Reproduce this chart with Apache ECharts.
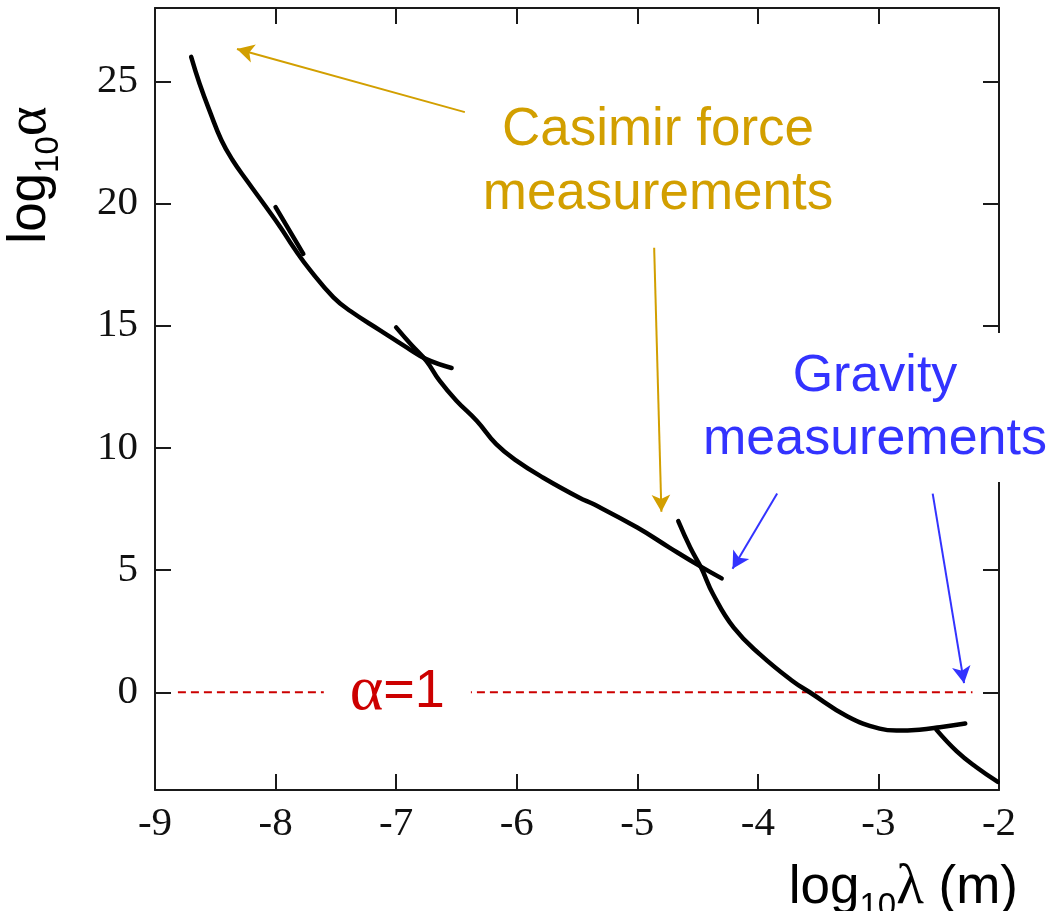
<!DOCTYPE html>
<html>
<head>
<meta charset="utf-8">
<script src="https://cdn.jsdelivr.net/npm/echarts@6/dist/echarts.min.js"></script>
<style>
  html, body { margin: 0; padding: 0; background: #fff; }
  #chart { width: 1054px; height: 911px; }
</style>
</head>
<body>
<div id="chart"></div>
<script>
// tick values
const yTicks = [0, 5, 10, 15, 20, 25];

// exclusion curves, [log10 lambda, log10 alpha]
const curveA = [[-8.70, 26.0], [-8.63, 24.9], [-8.54, 23.7], [-8.45, 22.6], [-8.36, 21.8],
  [-8.24, 20.95], [-8.10, 20.0], [-7.96, 19.03], [-7.85, 18.2], [-7.71, 17.25],
  [-7.52, 16.16], [-7.38, 15.6], [-7.13, 14.8], [-6.91, 14.1], [-6.75, 13.63], [-6.54, 13.27]];
const crossA = [[-8.0, 19.85], [-7.77, 17.94]];
const curveC = [[-7.0, 14.93], [-6.88, 14.25], [-6.75, 13.56], [-6.64, 12.75], [-6.50, 11.93],
  [-6.33, 11.1], [-6.17, 10.15], [-6.0, 9.47], [-5.78, 8.78], [-5.48, 7.96], [-5.36, 7.69],
  [-5.0, 6.74], [-4.73, 5.91], [-4.48, 5.16], [-4.30, 4.66]];
const curveD = [[-4.66, 7.0], [-4.56, 5.91], [-4.47, 5.09], [-4.37, 4.0], [-4.20, 2.64],
  [-3.98, 1.54], [-3.71, 0.45], [-3.57, 0.0], [-3.26, -0.98], [-2.99, -1.49],
  [-2.85, -1.57], [-2.66, -1.53], [-2.49, -1.43], [-2.28, -1.28]];
const curveE = [[-2.52, -1.53], [-2.35, -2.42], [-2.19, -3.06], [-2.01, -3.67]];

// alpha = 1 reference line and its label
const alphaOneLine = [[-8.81, 0], [-2.22, 0]];
const alphaOneLabel = [[-6.99, 0]];

// annotation arrows: [tail, head]
const casimirArrows = [[[-6.43, 23.74], [-8.32, 26.32]], [[-4.86, 18.19], [-4.80, 7.39]]];
const gravityArrows = [[[-3.84, 8.13], [-4.21, 5.05]], [[-2.55, 8.13], [-2.29, 0.37]]];

const GOLD = '#d29f00';
const BLUE = '#3333ff';
const RED = '#cc0000';

const titleRich = {
  a: { fontFamily: 'Liberation Sans', fontSize: 53, color: '#000' },
  b: { fontFamily: 'Liberation Sans', fontSize: 33, color: '#000', padding: [36, 0, 0, 0] },
  c: { fontFamily: 'Liberation Serif', fontSize: 57, color: '#000' }
};

function curve(data) {
  return {
    type: 'line',
    data: data,
    smooth: 0.45,
    symbol: 'none',
    lineStyle: { color: '#000', width: 4.5, cap: 'round', join: 'round' },
    z: 3
  };
}

function arrows(list, color) {
  return {
    silent: true,
    symbol: ['none', 'arrow'],
    symbolSize: [14, 17],
    label: { show: false },
    lineStyle: { color: color, width: 2, type: 'solid' },
    data: list.map(a => [{ coord: a[0] }, { coord: a[1] }])
  };
}

const chart = echarts.init(document.getElementById('chart'));

const axisLine = { show: true, onZero: false, lineStyle: { color: '#1a1a1a', width: 2 } };
const tick = { show: true, inside: true, length: 16, lineStyle: { color: '#1a1a1a', width: 2 } };

chart.setOption({
  animation: false,
  backgroundColor: '#fff',
  grid: { left: 155, right: 55, top: 8, bottom: 121, containLabel: false, outerBoundsMode: 'none' },
  xAxis: [
    {
      type: 'value', min: -9, max: -2, interval: 1, position: 'bottom',
      axisLine: axisLine, axisTick: tick, splitLine: { show: false },
      axisLabel: { fontFamily: 'Liberation Serif', fontSize: 41, color: '#111', margin: 14 },
      name: '{a|log}{b|10}{c|λ}{a| (m)}',
      nameLocation: 'end',
      nameGap: 19,
      nameTextStyle: { align: 'right', verticalAlign: 'top', padding: [64, 0, 0, 0], rich: titleRich }
    },
    {
      type: 'value', min: -9, max: -2, interval: 1, position: 'top',
      axisLine: axisLine, axisTick: tick, splitLine: { show: false },
      axisLabel: { show: false }
    }
  ],
  yAxis: [
    {
      type: 'value', min: -4, max: 28, position: 'left',
      axisLine: axisLine,
      axisTick: Object.assign({ customValues: yTicks }, tick),
      splitLine: { show: false },
      axisLabel: { customValues: yTicks, fontFamily: 'Liberation Serif', fontSize: 41, color: '#111', margin: 17 },
      name: '{a|log}{b|10}{c|α}',
      nameLocation: 'middle',
      nameRotate: 90,
      nameGap: 90,
      nameTextStyle: { padding: [0, 0, 0, 448], rich: titleRich }
    },
    {
      type: 'value', min: -4, max: 28, position: 'right',
      axisLine: axisLine,
      axisTick: Object.assign({ customValues: yTicks }, tick),
      splitLine: { show: false },
      axisLabel: { show: false }
    }
  ],
  series: [
    Object.assign(curve(curveA), { markLine: arrows(casimirArrows, GOLD) }),
    curve(crossA),
    curve(curveC),
    Object.assign(curve(curveD), { markLine: arrows(gravityArrows, BLUE) }),
    curve(curveE),
    {
      type: 'line',
      data: alphaOneLine,
      symbol: 'none',
      lineStyle: { color: RED, width: 2, type: [8, 5] },
      z: 2
    },
    {
      type: 'scatter',
      data: alphaOneLabel,
      symbolSize: 1,
      itemStyle: { color: '#fff', opacity: 1 },
      z: 6,
      label: {
        show: true,
        position: 'inside',
        formatter: '{a|α}{b|=1}',
        backgroundColor: '#fff',
        padding: [26, 26],
        rich: {
          a: { fontFamily: 'Liberation Serif', fontSize: 64, color: RED },
          b: { fontFamily: 'Liberation Sans', fontSize: 54, color: RED }
        }
      }
    }
  ],
  graphic: [
    {
      type: 'rect', z: 50,
      shape: { x: 670, y: 333, width: 384, height: 149 },
      style: { fill: '#fff' }
    },
    {
      type: 'text', z: 51, x: 875, y: 345,
      style: {
        text: 'Gravity\nmeasurements', fill: BLUE,
        font: '52px "Liberation Sans"', align: 'center', verticalAlign: 'top', lineHeight: 63
      }
    },
    {
      type: 'text', z: 51, x: 658, y: 98,
      style: {
        text: 'Casimir force\nmeasurements', fill: GOLD,
        font: '53px "Liberation Sans"', align: 'center', verticalAlign: 'top', lineHeight: 64
      }
    }
  ]
});
</script>
</body>
</html>
